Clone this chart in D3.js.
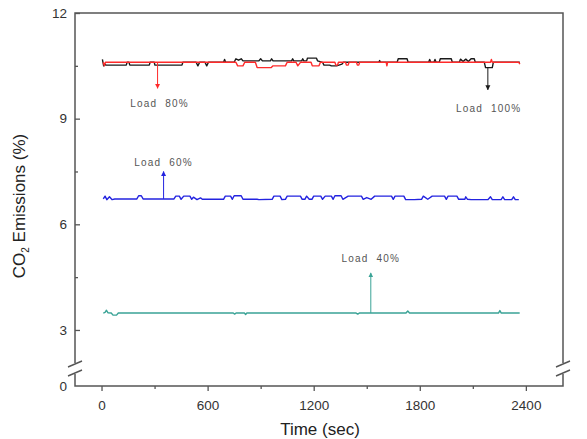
<!DOCTYPE html>
<html>
<head>
<meta charset="utf-8">
<script src="https://cdn.jsdelivr.net/npm/d3@7"></script>
<style>
  body { margin: 0; background: #fff; }
  text { font-family: Arial, "Liberation Sans", sans-serif; }
</style>
</head>
<body>
<svg id="chart" width="587" height="439"></svg>
<script>
// ---- data: [time (sec), CO2 (%)] ----
const load100 = [[5,10.68],[12,10.5],[18,10.55],[25,10.52],[140,10.52],[145,10.6],[155,10.6],[160,10.52],[270,10.52],[275,10.6],
  [298,10.6],[302,10.52],[455,10.52],[460,10.6],[535,10.6],[545,10.5],[555,10.6],[585,10.6],[595,10.5],[605,10.6],
  [690,10.6],[696,10.68],[702,10.6],[750,10.6],[760,10.7],[775,10.66],[790,10.7],[800,10.64],[890,10.64],[900,10.7],
  [910,10.64],[955,10.64],[962,10.7],[970,10.64],[1075,10.64],[1081,10.7],[1087,10.64],[1132,10.64],[1138,10.7],[1144,10.64],
  [1160,10.64],[1165,10.72],[1215,10.72],[1222,10.64],[1250,10.6],[1258,10.52],[1290,10.52],[1300,10.5],[1330,10.5],[1360,10.55],
  [1368,10.6],[1568,10.6],[1573,10.65],[1578,10.6],[1672,10.6],[1678,10.7],[1728,10.7],[1734,10.6],[1850,10.6],[1856,10.68],
  [1862,10.6],[1880,10.6],[1886,10.68],[1892,10.6],[1910,10.6],[1916,10.7],[1978,10.7],[1984,10.6],[2024,10.6],[2030,10.69],
  [2045,10.62],[2060,10.69],[2075,10.62],[2090,10.7],[2108,10.7],[2114,10.6],[2165,10.6],[2172,10.45],[2210,10.45],[2216,10.6],
  [2366,10.6]];

const load80 = [[10,10.6],[16,10.5],[22,10.6],[760,10.6],[770,10.5],[800,10.5],[810,10.6],[870,10.6],[880,10.45],[960,10.45],
  [970,10.5],[1040,10.5],[1050,10.6],[1100,10.6],[1110,10.5],[1125,10.6],[1185,10.6],[1192,10.5],[1230,10.5],[1238,10.6],
  [1320,10.6],[1325,10.52],[1335,10.52],[1340,10.6],[1380,10.6],[1385,10.52],[1395,10.52],[1400,10.6],[1442,10.6],[1447,10.52],
  [1455,10.52],[1460,10.6],[1610,10.6],[1614,10.5],[1618,10.6],[2200,10.6],[2205,10.68],[2210,10.6],[2360,10.6],[2366,10.55]];

const load60 = [[10,6.72],[20,6.8],[30,6.7],[45,6.78],[60,6.7],[75,6.72],[200,6.72],[210,6.81],[225,6.81],[235,6.72],
  [410,6.72],[420,6.8],[440,6.8],[450,6.71],[465,6.8],[500,6.8],[510,6.71],[520,6.77],[540,6.7],[560,6.75],
  [570,6.71],[690,6.71],[700,6.8],[730,6.8],[740,6.71],[750,6.81],[790,6.81],[800,6.71],[880,6.71],[890,6.7],
  [965,6.71],[975,6.8],[1010,6.8],[1020,6.7],[1040,6.71],[1050,6.8],[1125,6.8],[1135,6.71],[1150,6.71],[1160,6.8],
  [1175,6.71],[1190,6.71],[1200,6.8],[1240,6.8],[1250,6.71],[1265,6.8],[1300,6.8],[1310,6.71],[1320,6.81],[1355,6.81],
  [1365,6.71],[1395,6.8],[1470,6.8],[1480,6.71],[1500,6.76],[1525,6.71],[1545,6.8],[1640,6.8],[1650,6.71],[1660,6.8],
  [1710,6.8],[1720,6.7],[1770,6.7],[1810,6.71],[1820,6.8],[1845,6.71],[1870,6.8],[1940,6.8],[1950,6.71],[1960,6.8],
  [2010,6.8],[2020,6.71],[2055,6.71],[2060,6.78],[2070,6.71],[2090,6.7],[2185,6.7],[2200,6.78],[2210,6.7],[2260,6.7],
  [2270,6.78],[2280,6.7],[2320,6.7],[2330,6.78],[2340,6.7],[2360,6.7]];

const load40 = [[10,3.48],[20,3.5],[28,3.56],[36,3.49],[55,3.48],[65,3.42],[85,3.42],[95,3.48],[745,3.48],[753,3.45],
  [761,3.48],[808,3.48],[815,3.44],[822,3.48],[1440,3.48],[1449,3.45],[1458,3.48],[1722,3.48],[1732,3.54],[1742,3.48],
  [2245,3.48],[2253,3.55],[2261,3.48],[2365,3.48]];

const seriesNames = ["Load 100%", "Load 80%", "Load 60%", "Load 40%"];
const seriesColors = ["#1a1a1a", "#ff2a2a", "#2323e0", "#3aa396"];

// arrow annotations: time, start value, end value, label value
const arrowT = [2185, 317, 351, 1523];
const arrowFrom = [10.45, 10.58, 6.72, 3.48];
const arrowTo = [9.82, 9.86, 7.5, 4.62];
const labelT = [2190, 328, 351, 1523];
const labelV = [9.28, 9.42, 7.75, 5.02];

const xTicks = [0, 600, 1200, 1800, 2400];
const xMinor = [300, 900, 1500, 2100];
const yTicks = [0, 3, 6, 9, 12];
const yMinor = [4.5, 7.5, 10.5];

// ---- layout ----
const svg = d3.select("#chart");
const mLeft = 75, mRight = 563, mTop = 13, mBottom = 386;

const x = d3.scaleLinear().domain([-150, 2610]).range([mLeft, mRight]);
// broken axis: 0 sits just under the break, 1.92..12 is linear
const y = d3.scaleLinear().domain([0, 1.92, 12]).range([mBottom, 368, mTop]);

const axisColor = "#555";

// ticks
svg.append("g")
    .attr("transform", `translate(0,${mBottom})`)
    .call(d3.axisBottom(x).tickValues(xTicks).tickFormat(d3.format("d"))
        .tickSize(5).tickPadding(9).tickSizeOuter(0));
svg.append("g")
    .attr("transform", `translate(0,${mBottom})`)
    .call(d3.axisBottom(x).tickValues(xMinor).tickSize(3).tickFormat("").tickSizeOuter(0));

const yAxis = svg.append("g")
    .attr("transform", `translate(${mLeft},0)`)
    .call(d3.axisLeft(y).tickValues(yTicks).tickFormat(d3.format("d"))
        .tickSize(-5).tickPadding(8).tickSizeOuter(0));
svg.append("g")
    .attr("transform", `translate(${mLeft},0)`)
    .call(d3.axisLeft(y).tickValues(yMinor).tickSize(-3).tickFormat("").tickSizeOuter(0));

svg.selectAll(".domain").remove();
svg.selectAll(".tick line").attr("stroke", axisColor).attr("stroke-width", 1.3);
svg.selectAll(".tick text")
    .attr("fill", "#333")
    .style("font-size", "13.5px")
    .style("font-family", "Arial, 'Liberation Sans', sans-serif");
yAxis.selectAll(".tick").filter(d => d === 0).select("line").remove();

// frame with breaks
const breakTop = 363, breakBot = 374;
const frame = svg.append("g")
    .attr("fill", "none")
    .attr("stroke", axisColor)
    .attr("stroke-width", 1.5);
frame.append("path").attr("d", `M${mLeft},${breakTop}V${mTop}H${mRight}V${breakTop}`);
frame.append("path").attr("d", `M${mLeft},${breakBot}V${mBottom}H${mRight}V${breakBot}`);

[mLeft, mRight].forEach(bx => {
    const g = svg.append("g").attr("stroke", axisColor).attr("stroke-width", 1.4);
    g.append("line").attr("x1", bx - 7).attr("y1", breakTop + 4).attr("x2", bx + 7).attr("y2", breakTop - 2);
    g.append("line").attr("x1", bx - 7).attr("y1", breakBot + 2).attr("x2", bx + 7).attr("y2", breakBot - 4);
});

// lines
const line = d3.line().x(d => x(d[0])).y(d => y(d[1]));
const allSeries = [load100, load80, load60, load40];

svg.append("g")
    .selectAll("path")
    .data(allSeries)
    .join("path")
        .attr("d", line)
        .attr("fill", "none")
        .attr("stroke", (d, i) => seriesColors[i])
        .attr("stroke-width", 1.4)
        .attr("stroke-linejoin", "round");

// arrowheads
const defs = svg.append("defs");
seriesColors.forEach((c, i) => {
    defs.append("marker")
        .attr("id", "arrow" + i)
        .attr("viewBox", "0 0 10 10")
        .attr("refX", 9).attr("refY", 5)
        .attr("markerWidth", 5).attr("markerHeight", 7)
        .attr("markerUnits", "userSpaceOnUse")
        .attr("orient", "auto")
      .append("path")
        .attr("d", "M0,0L10,5L0,10Z")
        .attr("fill", c);
});

const ann = svg.append("g");
ann.selectAll("line")
    .data(arrowT)
    .join("line")
        .attr("x1", d => x(d)).attr("x2", d => x(d))
        .attr("y1", (d, i) => y(arrowFrom[i]))
        .attr("y2", (d, i) => y(arrowTo[i]))
        .attr("stroke", (d, i) => seriesColors[i])
        .attr("stroke-width", 1)
        .attr("marker-end", (d, i) => `url(#arrow${i})`);

ann.selectAll("text")
    .data(seriesNames)
    .join("text")
        .attr("x", (d, i) => x(labelT[i]))
        .attr("y", (d, i) => y(labelV[i]))
        .attr("text-anchor", "middle")
        .attr("dy", "0.35em")
        .attr("fill", "#555")
        .style("font-size", "10px")
        .style("letter-spacing", "1.2px")
        .style("white-space", "pre")
        .text(d => d.replace(" ", "  "));

// axis titles
svg.append("text")
    .attr("x", (mLeft + mRight) / 2 + 1)
    .attr("y", 435)
    .attr("text-anchor", "middle")
    .attr("fill", "#222")
    .style("font-size", "17px")
    .text("Time (sec)");

const yt = svg.append("text")
    .attr("transform", "translate(25,206) rotate(-90)")
    .attr("text-anchor", "middle")
    .attr("fill", "#222")
    .style("font-size", "17px");
yt.append("tspan").text("CO");
yt.append("tspan").attr("dy", 4).style("font-size", "10px").text("2");
yt.append("tspan").attr("dy", -4).text(" Emissions (%)");
</script>
</body>
</html>
